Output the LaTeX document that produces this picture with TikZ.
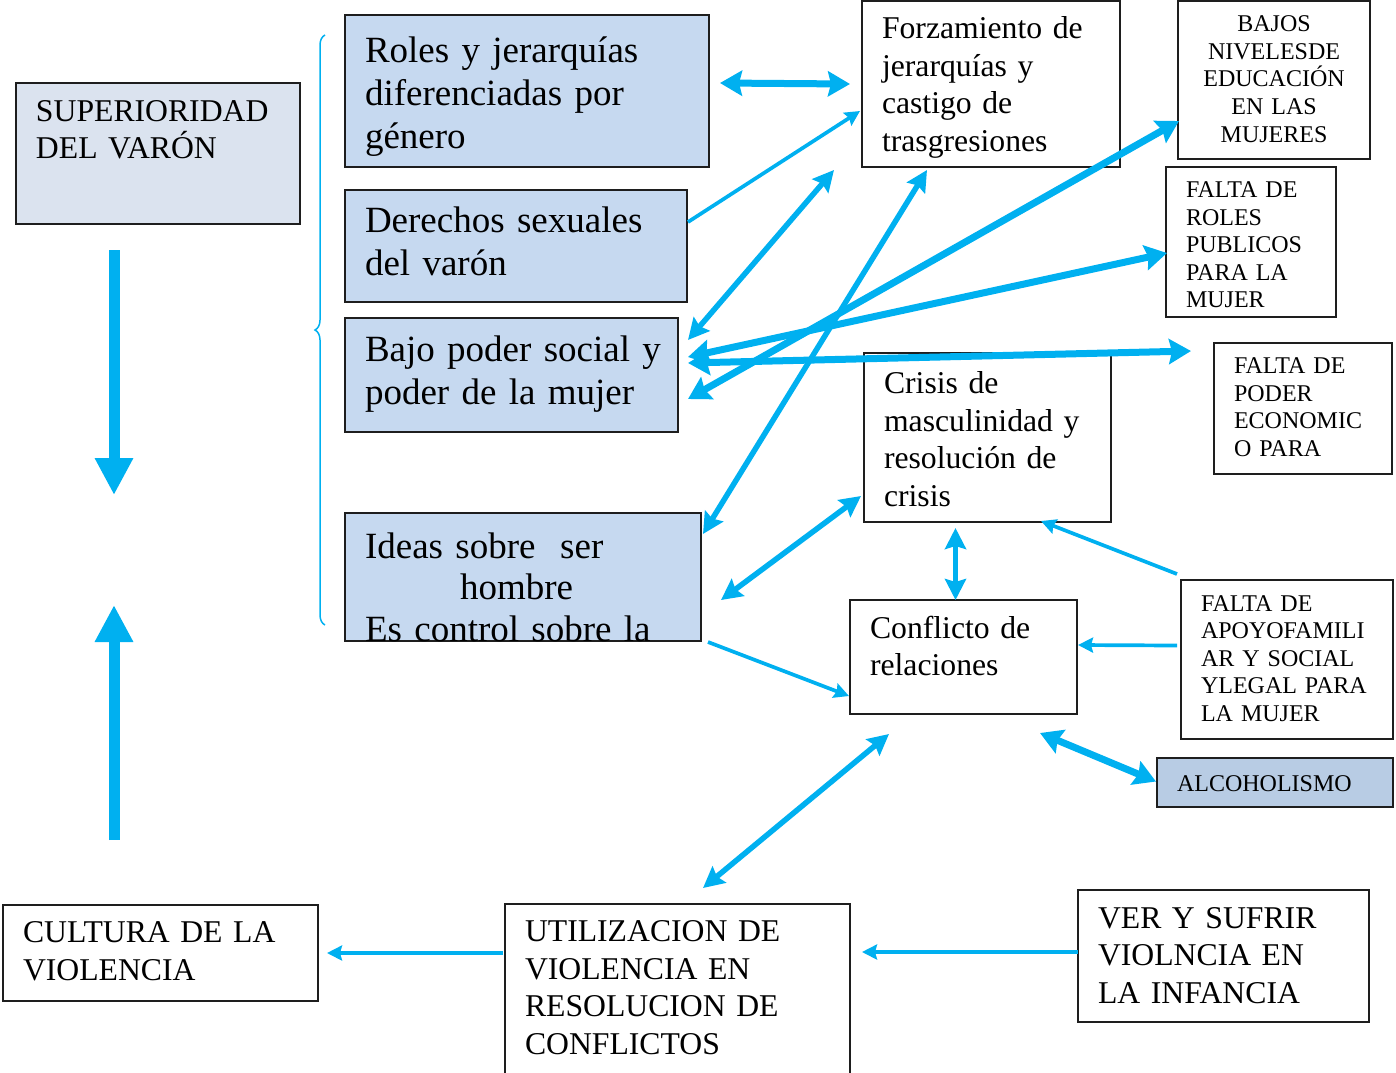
\documentclass[tikz,border=0pt]{standalone}
\usepackage{fontspec}
\setmainfont{Liberation Serif}
\usetikzlibrary{arrows.meta,decorations.pathreplacing}
\definecolor{skyarrow}{HTML}{00B0F0}
\definecolor{paleblue}{HTML}{C6D9F0}
\definecolor{palegrey}{HTML}{DBE3EF}
\definecolor{steelblue}{HTML}{B8CCE4}
\definecolor{inkline}{HTML}{1E1E1E}

\begin{document}
\begin{tikzpicture}[x=1pt, y=-1pt,
    frame/.style={rectangle, draw=inkline, line width=1.6pt, anchor=north west, inner sep=0pt, outer sep=0pt},
    box/.style={frame, align=left, execute at begin node={\leftskip=20pt\relax}},
    bluebox/.style={box, fill=paleblue, font=\fontsize{37}{43}\selectfont},
    plainbox/.style={box, fill=white, font=\fontsize{31.7}{37.5}\selectfont},
    capbox/.style={box, fill=white, font=\fontsize{24}{27.6}\selectfont},
    centerbox/.style={frame, fill=white, align=center, font=\fontsize{24}{27.6}\selectfont},
    biglink/.style={draw=skyarrow, line width=11pt, >={Triangle[length=37pt,width=36pt]}},
    widelink/.style={draw=skyarrow, line width=7pt, >={Stealth[length=22pt,width=25pt,inset=3pt]}},
    midlink/.style={draw=skyarrow, line width=5.5pt, >={Stealth[length=21pt,width=21pt,inset=3pt]}},
    thinlink/.style={draw=skyarrow, line width=3.7pt, >={Stealth[length=15pt,width=15pt,inset=2pt]}},
    brace/.style={draw=skyarrow, line width=1.5pt, decorate, decoration={brace, amplitude=10pt}}
]
\useasboundingbox (0,0) rectangle (1396,1072);

% left column
\node[plainbox, fill=palegrey, text width=284pt, text height=38pt, text depth=103pt] (sup) at (16,83) {SUPERIORIDAD\\DEL VARÓN};
\node[plainbox, text width=315pt, text height=37.5pt, text depth=58.5pt] (cultura) at (3,905) {CULTURA DE LA\\VIOLENCIA};

% blue column
\node[bluebox, text width=364pt, text height=47pt, text depth=105pt] (roles) at (345,15) {Roles y jerarquías\\diferenciadas por\\género};
\node[bluebox, text width=342pt, text height=42pt, text depth=70pt] (derechos) at (345,190) {Derechos sexuales\\del varón};
\node[bluebox, text width=333pt, text height=43pt, text depth=71pt] (bajo) at (345,318) {Bajo poder social y\\poder de la mujer};
\node[bluebox, font=\fontsize{37}{41.5}\selectfont, text width=356pt, text height=45pt, text depth=83pt] (ideas) at (345,513) {Ideas sobre \ ser\\\hspace*{95pt}hombre\\Es control sobre la};

% middle column
\node[plainbox, text width=258pt, text height=37.5pt, text depth=128.5pt] (forz) at (862,1) {Forzamiento de\\jerarquías y\\castigo de\\trasgresiones};
\node[plainbox, text width=247pt, text height=40.5pt, text depth=128.5pt] (crisis) at (864,353) {Crisis de\\masculinidad y\\resolución de\\crisis};
\node[plainbox, text width=227pt, text height=38pt, text depth=76pt] (conf) at (850,600) {Conflicto de\\relaciones};
\node[plainbox, text width=345pt, text height=37.7pt, text depth=137pt] (util) at (505,904) {UTILIZACION DE\\VIOLENCIA EN\\RESOLUCION DE\\CONFLICTOS};

% right column
\node[centerbox, text width=192pt, text height=30.6pt, text depth=127.4pt] (bajos) at (1178,1) {BAJOS\\NIVELESDE\\EDUCACIÓN\\EN LAS\\MUJERES};
\node[capbox, text width=170pt, text height=30.5pt, text depth=119.5pt] (froles) at (1166,167) {FALTA DE\\ROLES\\PUBLICOS\\PARA LA\\MUJER};
\node[capbox, text width=178pt, text height=30.5pt, text depth=100.5pt] (fpoder) at (1214,343) {FALTA DE\\PODER\\ECONOMIC\\O PARA};
\node[capbox, text width=212pt, text height=31pt, text depth=128pt] (apoyo) at (1181,580) {FALTA DE\\APOYOFAMILI\\AR Y SOCIAL\\YLEGAL PARA\\LA MUJER};
\node[capbox, fill=steelblue, text width=236pt, text height=33.7pt, text depth=15.3pt] (alc) at (1157,758) {ALCOHOLISMO};
\node[plainbox, text width=291pt, text height=38pt, text depth=94pt] (ver) at (1078,890) {VER Y SUFRIR\\VIOLNCIA EN\\LA INFANCIA};

% big vertical arrows
\coordinate (downtail) at (114,250);
\coordinate (downtip) at (114,495);
\coordinate (uptail) at (114,840);
\coordinate (uptip) at (114,605);
\draw[biglink,->] (downtail) -- (downtip);
\draw[biglink,->] (uptail) -- (uptip);

% brace
\draw[brace] ([shift={(-20,-16)}]ideas.south west) -- ([shift={(-20,20)}]roles.north west);

% links
\draw[widelink,<->] ([shift={(11,-8)}]roles.east) -- ([shift={(-12,0)}]forz.west);
\draw[thinlink,->] ([shift={(1,32)}]derechos.north east) -- ([shift={(-2,27)}]forz.west);
\draw[midlink,<->] ([shift={(10,22)}]bajo.north east) -- ([shift={(-28,3)}]forz.south west);
\draw[midlink,<->] ([shift={(2,21)}]ideas.north east) -- ([shift={(65,3)}]forz.south west);
\draw[widelink,<->] ([shift={(10,24)}]bajo.east) -- ([shift={(1,-38)}]bajos.south west);
\draw[widelink,<->] ([shift={(10,-18)}]bajo.east) -- ([shift={(1,11)}]froles.west);
\draw[widelink,<->] ([shift={(10,-12)}]bajo.east) -- ([shift={(-23,8)}]fpoder.north west);
\draw[midlink,<->] ([shift={(20,23)}]ideas.east) -- ([shift={(-3,-26)}]crisis.south west);
\draw[midlink,<->] ([shift={(-32,6)}]crisis.south) -- ([xshift=-8pt]conf.north);
\draw[thinlink,->] ([shift={(-4,-6)}]apoyo.north west) -- ([shift={(-70,-1)}]crisis.south east);
\draw[thinlink,->] ([shift={(-4,-14)}]apoyo.west) -- ([shift={(1,-12)}]conf.east);
\draw[thinlink,->] ([shift={(7,1)}]ideas.south east) -- ([shift={(-1,-18)}]conf.south west);
\draw[widelink,<->] ([shift={(-37,19)}]conf.south east) -- ([shift={(-1,-1)}]alc.west);
\draw[midlink,<->] ([shift={(39,20)}]conf.south west) -- ([shift={(198,-16)}]util.north west);
\draw[thinlink,->] ([xshift=-2pt]util.west |- cultura.east) -- ([xshift=9pt]cultura.east);
\coordinate (verport) at ([yshift=4pt]ver.west);
\draw[thinlink,->] (verport) -- ([xshift=12pt]util.east |- verport);
\end{tikzpicture}
\end{document}
